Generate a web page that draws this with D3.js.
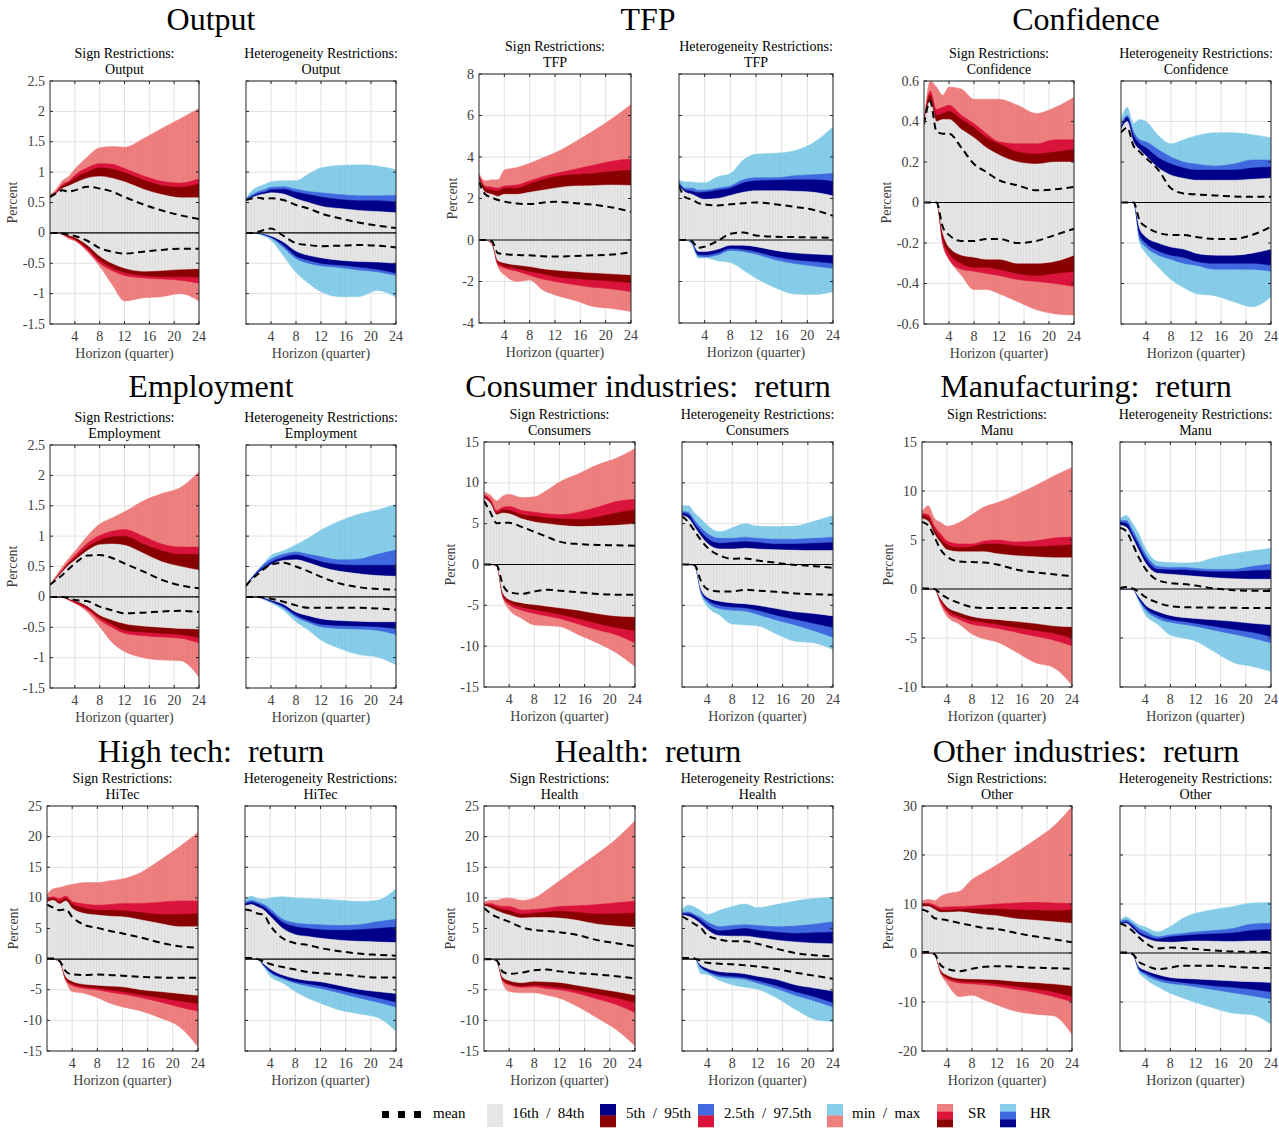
<!DOCTYPE html>
<html><head><meta charset="utf-8">
<script src="https://cdn.jsdelivr.net/npm/d3@7"></script>
<style>
body{margin:0;background:#fff}
svg text{font-family:"Liberation Serif","Times New Roman",serif}
</style>
</head><body>
<svg id="c" width="1279" height="1128"></svg>
<script>
// ---------------- DATA ----------------
const horizons = [0,1,2,3,4,6,8,10,12,15,18,21,24];
const xTicks = [4,8,12,16,20,24];
// Row order in every panel array:
// 0 max, 1 p97.5, 2 p95, 3 p84 (upper bound of identified set),
// 4 mean upper, 5 mean lower,
// 6 p16, 7 p5, 8 p2.5, 9 min (lower bound of identified set)
const outputSR = [
 [0.62,0.72,0.86,0.93,1.05,1.25,1.40,1.42,1.41,1.55,1.72,1.88,2.05],
 [0.62,0.68,0.80,0.85,0.95,1.07,1.14,1.13,1.06,0.94,0.85,0.82,0.89],
 [0.61,0.66,0.77,0.82,0.90,1.00,1.07,1.05,0.99,0.87,0.78,0.75,0.81],
 [0.60,0.65,0.73,0.77,0.82,0.90,0.93,0.90,0.84,0.72,0.63,0.58,0.58],
 [0.59,0.65,0.70,0.68,0.70,0.76,0.73,0.68,0.59,0.47,0.37,0.29,0.23],
 [0,0,-0.01,-0.03,-0.05,-0.13,-0.25,-0.31,-0.34,-0.31,-0.28,-0.26,-0.26],
 [0,0,-0.01,-0.04,-0.07,-0.20,-0.38,-0.50,-0.58,-0.63,-0.62,-0.60,-0.59],
 [0,0,-0.02,-0.06,-0.10,-0.25,-0.45,-0.57,-0.65,-0.70,-0.72,-0.72,-0.73],
 [0,0,-0.02,-0.07,-0.12,-0.28,-0.50,-0.62,-0.70,-0.74,-0.76,-0.78,-0.83],
 [0,0,-0.03,-0.10,-0.13,-0.31,-0.55,-0.85,-1.12,-1.07,-1.05,-1.00,-1.12]];
const outputHR = [
 [0.57,0.70,0.76,0.80,0.84,0.86,0.86,0.97,1.07,1.11,1.12,1.10,1.04],
 [0.56,0.63,0.68,0.71,0.75,0.76,0.72,0.68,0.66,0.63,0.61,0.61,0.62],
 [0.55,0.60,0.65,0.67,0.71,0.72,0.67,0.63,0.59,0.55,0.53,0.53,0.51],
 [0.55,0.58,0.62,0.64,0.66,0.64,0.56,0.50,0.44,0.40,0.37,0.35,0.33],
 [0.54,0.57,0.58,0.56,0.57,0.54,0.46,0.40,0.32,0.24,0.17,0.12,0.08],
 [0,0,0.02,0.05,0.07,-0.05,-0.17,-0.20,-0.22,-0.21,-0.20,-0.21,-0.24],
 [0,0,0,-0.02,-0.05,-0.15,-0.30,-0.37,-0.41,-0.45,-0.47,-0.48,-0.50],
 [0,0,-0.01,-0.03,-0.07,-0.20,-0.38,-0.45,-0.50,-0.53,-0.56,-0.60,-0.66],
 [0,0,-0.01,-0.04,-0.08,-0.24,-0.42,-0.50,-0.54,-0.57,-0.61,-0.64,-0.70],
 [0,0,-0.02,-0.06,-0.12,-0.38,-0.65,-0.83,-0.97,-1.05,-1.05,-0.95,-1.06]];
const tfpSR = [
 [3.2,2.85,2.9,2.9,3.37,3.5,3.7,3.95,4.2,4.7,5.25,5.85,6.53],
 [3.1,2.6,2.55,2.5,2.6,2.65,2.85,3.05,3.2,3.4,3.6,3.8,3.9],
 [3.0,2.5,2.4,2.35,2.5,2.5,2.7,2.9,3.05,3.15,3.2,3.3,3.37],
 [2.9,2.3,2.2,2.1,2.2,2.2,2.3,2.4,2.5,2.6,2.62,2.65,2.63],
 [2.8,2.2,2.05,1.93,1.85,1.76,1.73,1.8,1.84,1.78,1.7,1.57,1.36],
 [0,0,-0.05,-0.64,-0.68,-0.72,-0.74,-0.78,-0.8,-0.77,-0.74,-0.7,-0.59],
 [0,0,-0.1,-1.0,-1.1,-1.2,-1.28,-1.38,-1.45,-1.52,-1.58,-1.63,-1.68],
 [0,0,-0.12,-1.1,-1.25,-1.38,-1.5,-1.62,-1.76,-1.85,-1.92,-1.98,-2.05],
 [0,0,-0.15,-1.2,-1.35,-1.5,-1.7,-1.88,-2.0,-2.15,-2.28,-2.36,-2.49],
 [0,0,-0.2,-1.3,-1.68,-2.0,-1.93,-2.4,-2.65,-2.9,-3.2,-3.3,-3.45]];
const tfpHR = [
 [2.9,2.8,2.8,2.76,2.76,3.05,3.2,3.85,4.14,4.18,4.3,4.7,5.45],
 [2.8,2.5,2.5,2.4,2.4,2.5,2.6,2.9,3.0,3.0,3.1,3.15,3.2],
 [2.7,2.4,2.35,2.28,2.3,2.4,2.5,2.75,2.85,2.88,2.9,2.9,2.82],
 [2.6,2.3,2.2,2.05,1.96,2.0,2.15,2.3,2.37,2.37,2.35,2.3,2.12],
 [2.6,2.05,1.95,1.78,1.72,1.66,1.72,1.77,1.81,1.72,1.6,1.45,1.17],
 [0,0,-0.05,-0.38,-0.32,-0.05,0.3,0.36,0.22,0.16,0.14,0.12,0.11],
 [0,0,-0.1,-0.55,-0.56,-0.45,-0.25,-0.25,-0.32,-0.5,-0.62,-0.68,-0.72],
 [0,0,-0.12,-0.7,-0.72,-0.62,-0.4,-0.45,-0.56,-0.8,-0.95,-1.03,-1.12],
 [0,0,-0.15,-0.78,-0.82,-0.72,-0.5,-0.55,-0.68,-0.95,-1.13,-1.25,-1.36],
 [0,0,-0.2,-0.88,-0.86,-1.0,-1.09,-1.44,-1.84,-2.3,-2.6,-2.63,-2.49]];
const confSR = [
 [0.39,0.6,0.57,0.53,0.57,0.56,0.51,0.51,0.51,0.48,0.44,0.47,0.52],
 [0.4,0.55,0.46,0.47,0.48,0.43,0.39,0.34,0.3,0.29,0.29,0.31,0.31],
 [0.4,0.53,0.43,0.44,0.45,0.41,0.37,0.32,0.29,0.25,0.24,0.25,0.26],
 [0.39,0.5,0.4,0.41,0.41,0.36,0.32,0.27,0.235,0.2,0.19,0.2,0.2],
 [0.386,0.5,0.35,0.34,0.34,0.27,0.19,0.15,0.11,0.085,0.06,0.065,0.077],
 [0,0,0,-0.12,-0.16,-0.19,-0.19,-0.18,-0.18,-0.2,-0.19,-0.16,-0.13],
 [0,0,0,-0.15,-0.22,-0.26,-0.27,-0.28,-0.28,-0.3,-0.3,-0.29,-0.26],
 [0,0,0,-0.18,-0.25,-0.3,-0.32,-0.32,-0.33,-0.35,-0.36,-0.35,-0.34],
 [0,0,0,-0.2,-0.28,-0.33,-0.34,-0.35,-0.36,-0.38,-0.39,-0.4,-0.415],
 [0,0,0,-0.21,-0.28,-0.36,-0.43,-0.43,-0.45,-0.49,-0.53,-0.55,-0.556]];
const confHR = [
 [0.41,0.47,0.39,0.41,0.4,0.33,0.29,0.31,0.33,0.345,0.345,0.335,0.32],
 [0.38,0.43,0.35,0.31,0.3,0.26,0.225,0.2,0.19,0.18,0.19,0.21,0.21],
 [0.37,0.42,0.33,0.29,0.27,0.22,0.19,0.17,0.16,0.16,0.16,0.17,0.175],
 [0.36,0.4,0.3,0.26,0.23,0.17,0.135,0.12,0.11,0.11,0.11,0.115,0.12],
 [0.345,0.37,0.28,0.25,0.22,0.16,0.07,0.045,0.04,0.035,0.03,0.028,0.028],
 [0,0,0,-0.09,-0.12,-0.15,-0.16,-0.16,-0.17,-0.18,-0.18,-0.16,-0.12],
 [0,0,0,-0.13,-0.17,-0.2,-0.22,-0.23,-0.25,-0.26,-0.26,-0.25,-0.23],
 [0,0,0,-0.16,-0.2,-0.24,-0.26,-0.27,-0.29,-0.3,-0.3,-0.3,-0.31],
 [0,0,0,-0.18,-0.22,-0.26,-0.28,-0.3,-0.31,-0.33,-0.33,-0.33,-0.34],
 [0,0,0,-0.2,-0.25,-0.32,-0.38,-0.42,-0.45,-0.46,-0.49,-0.515,-0.465]];
const emplSR = [
 [0.2,0.35,0.5,0.63,0.75,1.0,1.2,1.3,1.4,1.58,1.7,1.8,2.06],
 [0.2,0.32,0.45,0.57,0.68,0.88,1.01,1.08,1.11,1.0,0.87,0.82,0.82],
 [0.2,0.31,0.43,0.55,0.64,0.82,0.93,0.99,1.0,0.87,0.76,0.7,0.7],
 [0.2,0.3,0.41,0.52,0.6,0.76,0.86,0.87,0.85,0.72,0.58,0.5,0.44],
 [0.2,0.28,0.36,0.46,0.55,0.68,0.69,0.64,0.55,0.42,0.28,0.19,0.14],
 [0,0,0,-0.02,-0.05,-0.07,-0.16,-0.22,-0.27,-0.26,-0.24,-0.23,-0.25],
 [0,0,0,-0.03,-0.06,-0.15,-0.3,-0.38,-0.44,-0.48,-0.5,-0.52,-0.53],
 [0,0,0,-0.04,-0.08,-0.18,-0.34,-0.45,-0.55,-0.58,-0.6,-0.62,-0.67],
 [0,0,0,-0.05,-0.1,-0.21,-0.38,-0.5,-0.6,-0.64,-0.66,-0.68,-0.76],
 [0,0,0,-0.05,-0.1,-0.25,-0.49,-0.75,-0.9,-1.0,-1.04,-1.05,-1.32]];
const emplHR = [
 [0.2,0.32,0.45,0.57,0.68,0.76,0.86,0.97,1.1,1.25,1.36,1.43,1.52],
 [0.2,0.33,0.45,0.55,0.62,0.7,0.74,0.7,0.66,0.61,0.62,0.7,0.77],
 [0.2,0.32,0.42,0.5,0.57,0.65,0.69,0.64,0.58,0.53,0.52,0.52,0.52],
 [0.2,0.3,0.4,0.46,0.53,0.6,0.61,0.56,0.49,0.42,0.38,0.35,0.34],
 [0.18,0.3,0.38,0.47,0.53,0.56,0.5,0.42,0.33,0.22,0.16,0.13,0.12],
 [0,0,0,-0.01,-0.03,-0.08,-0.14,-0.18,-0.18,-0.18,-0.18,-0.19,-0.21],
 [0,0,0,-0.02,-0.05,-0.12,-0.25,-0.31,-0.36,-0.39,-0.4,-0.41,-0.41],
 [0,0,0,-0.03,-0.07,-0.16,-0.3,-0.39,-0.45,-0.47,-0.48,-0.49,-0.52],
 [0,0,0,-0.04,-0.08,-0.18,-0.33,-0.42,-0.49,-0.52,-0.53,-0.55,-0.62],
 [0,0,0,-0.05,-0.1,-0.22,-0.41,-0.55,-0.71,-0.85,-0.95,-0.99,-1.12]];
const consSR = [
 [8.9,8.5,7.8,8.4,8.6,8.2,8.3,9.1,10.1,11.1,12.2,13.0,14.2],
 [8.5,8.0,6.6,7.0,7.1,6.6,6.4,6.2,6.1,6.4,7.0,7.7,8.0],
 [8.3,7.7,6.3,6.7,6.6,6.1,5.9,5.7,5.6,5.5,5.8,6.3,6.7],
 [8.1,7.5,6.1,6.3,6.2,5.6,5.2,5.0,4.8,4.65,4.7,4.8,5.0],
 [7.8,6.4,5.05,5.1,5.1,4.6,4.0,3.4,2.8,2.5,2.4,2.35,2.3],
 [0,0,-0.1,-2.5,-3.4,-3.6,-3.3,-3.1,-3.2,-3.4,-3.6,-3.7,-3.7],
 [0,0,-0.1,-3.5,-4.3,-4.7,-4.9,-5.1,-5.3,-5.6,-6.0,-6.3,-6.4],
 [0,0,-0.1,-3.8,-4.6,-5.2,-5.5,-5.8,-6.1,-6.6,-7.2,-7.7,-8.1],
 [0,0,-0.1,-4.0,-4.9,-5.6,-6.0,-6.3,-6.6,-7.3,-8.0,-8.6,-9.6],
 [0,0,-0.1,-4.1,-5.5,-6.6,-7.4,-7.5,-7.6,-8.6,-9.6,-10.8,-12.5]];
const consHR = [
 [7.2,7.2,6.3,5.6,4.8,4.0,4.5,5.0,4.7,4.65,4.7,5.3,6.0],
 [6.5,6.4,5.4,4.5,3.8,3.2,3.2,3.35,3.2,3.1,3.1,3.2,3.35],
 [6.3,6.1,5.0,4.0,3.2,2.6,2.7,2.8,2.7,2.5,2.5,2.6,2.7],
 [6.0,5.7,4.6,3.5,2.6,1.9,1.9,2.0,1.9,1.8,1.75,1.7,1.7],
 [5.9,5.2,4.1,3.0,2.1,1.1,0.7,0.75,0.5,0.2,-0.05,-0.2,-0.4],
 [0,0,-0.1,-2.0,-3.0,-3.3,-3.3,-3.1,-3.2,-3.35,-3.55,-3.65,-3.7],
 [0,0,-0.1,-3.0,-4.0,-4.5,-4.7,-4.8,-5.0,-5.4,-5.8,-6.0,-6.3],
 [0,0,-0.1,-3.2,-4.3,-5.0,-5.2,-5.3,-5.6,-6.2,-6.7,-7.2,-7.7],
 [0,0,-0.1,-3.4,-4.6,-5.4,-5.6,-5.7,-6.1,-6.8,-7.4,-8.1,-8.9],
 [0,0,-0.1,-3.6,-5.1,-6.2,-7.3,-7.4,-7.5,-8.5,-9.4,-9.6,-10.4]];
const manuSR = [
 [7.9,8.5,7.2,6.8,6.4,6.8,7.6,8.4,8.8,9.6,10.5,11.5,12.4],
 [7.7,7.6,6.4,5.6,4.9,4.6,4.6,4.9,5.0,4.8,4.9,5.2,5.3],
 [7.5,7.3,6.0,5.1,4.5,4.2,4.3,4.6,4.6,4.4,4.3,4.4,4.5],
 [7.2,6.9,5.6,4.7,4.0,3.8,3.8,3.8,3.6,3.4,3.3,3.2,3.2],
 [6.85,6.5,5.3,4.0,3.3,2.8,2.75,2.7,2.5,2.0,1.7,1.5,1.3],
 [0.05,0.05,0,-0.5,-0.9,-1.45,-1.85,-1.95,-1.95,-1.93,-1.93,-1.93,-1.93],
 [0,0,0,-1.0,-1.8,-2.4,-2.8,-3.0,-3.1,-3.3,-3.5,-3.75,-3.85],
 [0,0,0,-1.2,-2.1,-2.8,-3.2,-3.4,-3.6,-3.9,-4.2,-4.5,-5.0],
 [0,0,0,-1.4,-2.4,-3.1,-3.6,-3.8,-4.0,-4.4,-4.8,-5.2,-5.8],
 [0,0,0,-1.6,-2.8,-3.6,-4.6,-5.1,-5.4,-6.4,-7.5,-8.0,-9.8]];
const manuHR = [
 [7.2,7.5,6.7,5.6,4.2,2.8,2.7,2.65,2.7,3.2,3.6,3.9,4.15],
 [7.0,7.0,6.0,4.8,3.6,2.3,2.2,2.2,2.1,2.0,2.0,2.3,2.55],
 [6.8,6.7,5.6,4.4,3.2,2.0,1.95,1.95,1.85,1.75,1.75,1.85,1.95],
 [6.5,6.3,5.2,3.9,2.7,1.6,1.5,1.4,1.3,1.15,1.05,1.0,1.0],
 [6.25,5.9,4.6,3.2,2.1,0.9,0.6,0.5,0.35,0.05,-0.12,-0.18,-0.2],
 [0.1,0.2,0.05,-0.3,-0.8,-1.4,-1.75,-1.85,-1.88,-1.9,-1.92,-1.93,-1.93],
 [0,0,0,-0.8,-1.6,-2.3,-2.7,-2.9,-3.0,-3.15,-3.3,-3.5,-3.65],
 [0,0,0,-1.0,-1.9,-2.7,-3.1,-3.3,-3.5,-3.8,-4.1,-4.4,-4.85],
 [0,0,0,-1.1,-2.1,-3.0,-3.4,-3.6,-3.8,-4.2,-4.6,-5.0,-5.5],
 [0,0,0,-1.3,-2.6,-3.6,-4.7,-5.0,-5.3,-6.4,-7.5,-7.9,-8.4]];
const hitecSR = [
 [10.6,11.5,11.7,12.0,12.2,12.5,12.5,12.8,13.1,14.2,16.2,18.3,20.7],
 [9.8,10.2,9.9,10.3,9.4,9.0,8.8,8.9,9.1,9.1,9.3,9.5,9.5],
 [9.5,9.9,9.4,9.9,9.0,8.3,8.0,8.0,7.9,7.6,7.3,7.3,7.45],
 [9.3,9.6,9.0,9.5,8.3,7.45,7.2,7.0,6.9,6.4,5.8,5.3,5.3],
 [8.9,8.4,8.0,8.1,6.9,5.55,5.1,4.6,4.2,3.5,2.7,2.1,1.85],
 [0.1,0.1,-0.3,-2.0,-2.5,-2.6,-2.5,-2.6,-2.7,-2.9,-3.0,-3.05,-3.05],
 [0,0,-0.4,-2.9,-3.6,-4.1,-4.25,-4.4,-4.5,-5.0,-5.3,-5.6,-5.9],
 [0,0,-0.4,-3.2,-4.0,-4.5,-4.7,-5.0,-5.3,-5.8,-6.3,-6.8,-7.25],
 [0,0,-0.4,-3.5,-4.3,-4.8,-5.0,-5.4,-5.7,-6.3,-7.0,-7.8,-8.5],
 [0,0,-0.5,-3.6,-5.3,-5.6,-6.3,-7.2,-7.8,-8.5,-9.6,-11.0,-14.3]];
const hitecHR = [
 [9.6,10.3,9.9,9.8,10.0,10.2,10.0,9.9,9.8,9.6,9.4,9.6,11.5],
 [9.2,9.6,9.3,8.9,8.2,6.5,5.9,5.7,5.6,5.5,5.6,6.1,6.5],
 [9.0,9.3,9.0,8.5,7.7,6.0,5.3,5.0,4.8,4.7,4.8,5.0,5.2],
 [8.7,8.9,8.5,8.0,7.0,5.0,4.0,3.7,3.4,3.1,2.9,2.8,2.7],
 [8.1,7.9,7.45,7.2,5.5,3.4,2.6,2.3,1.8,1.3,0.9,0.7,0.55],
 [0.2,0.2,0,-0.4,-0.8,-1.3,-1.7,-2.1,-2.3,-2.5,-2.8,-3.0,-3.0],
 [0.1,0.1,0,-0.8,-1.6,-2.6,-3.15,-3.5,-3.7,-4.3,-4.9,-5.3,-5.6],
 [0.1,0.1,0,-1.0,-2.0,-3.0,-3.7,-4.0,-4.35,-5.0,-5.7,-6.3,-7.0],
 [0.1,0.1,0,-1.1,-2.2,-3.2,-3.9,-4.4,-4.8,-5.5,-6.3,-7.0,-7.8],
 [0.1,0.1,0,-1.3,-2.8,-3.9,-5.3,-6.4,-7.2,-8.3,-8.9,-9.5,-11.75]];
const healthSR = [
 [9.3,9.6,9.6,9.9,10.0,9.6,10.0,11.3,12.8,15.0,17.2,19.6,22.6],
 [9.0,9.1,8.8,8.6,8.6,8.0,8.1,8.3,8.6,8.7,8.9,9.2,9.45],
 [8.9,8.8,8.4,8.1,7.9,7.3,7.5,7.7,7.8,7.6,7.35,7.4,7.5],
 [8.7,8.4,7.9,7.5,7.2,6.7,6.8,6.8,6.7,6.3,5.7,5.4,5.2],
 [8.35,7.5,6.9,6.5,6.1,5.2,4.75,4.6,4.4,3.9,3.1,2.6,2.1],
 [0,0,-0.2,-2.1,-2.4,-2.2,-1.8,-1.7,-2.0,-2.3,-2.5,-2.8,-3.15],
 [0,0,-0.3,-3.0,-3.5,-3.85,-3.6,-3.7,-3.8,-4.3,-4.8,-5.3,-5.85],
 [0,0,-0.3,-3.4,-4.0,-4.4,-4.2,-4.4,-4.65,-5.1,-5.7,-6.3,-7.1],
 [0,0,-0.3,-3.6,-4.2,-4.6,-4.5,-4.8,-5.0,-5.6,-6.5,-7.4,-8.7],
 [0,0,-0.3,-4.0,-5.3,-5.5,-5.5,-5.9,-6.4,-7.8,-9.6,-11.5,-14.2]];
const healthHR = [
 [8.1,8.8,8.5,7.9,7.3,8.0,8.6,9.0,8.4,8.9,9.5,9.9,10.1],
 [7.6,7.7,7.3,6.8,6.1,5.3,5.5,5.6,5.5,5.3,5.4,5.7,6.1],
 [7.4,7.4,7.0,6.3,5.5,4.6,4.8,5.0,4.7,4.4,4.2,4.3,4.4],
 [7.2,7.0,6.5,5.7,4.8,3.8,3.75,3.75,3.5,3.1,2.8,2.6,2.5],
 [7.0,6.4,5.7,5.1,3.9,3.2,2.9,2.9,2.5,1.7,1.0,0.65,0.45],
 [0.2,0.2,0.1,-0.3,-0.6,-0.75,-0.85,-1.0,-1.2,-1.6,-2.2,-2.7,-3.2],
 [0.1,0.1,0.05,-1.0,-1.5,-2.05,-2.2,-2.4,-2.8,-3.3,-4.2,-4.7,-5.2],
 [0.1,0.1,0.05,-1.3,-1.9,-2.6,-2.8,-3.0,-3.5,-4.3,-5.3,-6.1,-7.1],
 [0.1,0.1,0.05,-1.4,-2.1,-2.9,-3.1,-3.3,-3.9,-4.8,-5.9,-6.8,-7.8],
 [0.1,0.1,0.05,-2.4,-2.5,-3.5,-4.2,-4.6,-4.9,-6.3,-8.2,-9.8,-10.2]];
const otherSR = [
 [10.6,10.95,10.7,11.6,12.1,12.6,15.0,16.5,18.0,20.5,23.0,25.8,29.9],
 [10.0,10.2,9.8,9.3,9.4,9.45,9.6,9.8,10.0,10.2,10.35,10.2,10.1],
 [9.8,9.9,9.3,8.8,8.7,8.9,9.0,9.0,9.0,8.8,8.7,8.6,8.8],
 [9.5,9.5,8.9,8.3,8.3,8.4,8.1,7.8,7.6,7.0,6.7,6.4,6.05],
 [8.9,8.4,7.1,6.9,6.7,6.1,5.6,5.1,4.9,4.1,3.4,2.8,2.2],
 [0.2,0.2,-0.2,-2.5,-3.2,-3.7,-3.2,-2.8,-2.7,-2.8,-3.0,-3.1,-3.25],
 [0,0,-0.3,-3.5,-4.5,-5.2,-5.3,-5.35,-5.45,-5.8,-6.0,-6.3,-6.7],
 [0,0,-0.3,-3.8,-5.0,-5.7,-5.9,-6.0,-6.3,-6.8,-7.3,-7.9,-8.9],
 [0,0,-0.3,-4.0,-5.3,-6.1,-6.3,-6.5,-6.8,-7.4,-8.0,-8.9,-9.9],
 [0,0,-0.3,-4.3,-6.2,-8.9,-8.6,-9.6,-10.6,-11.9,-12.5,-12.8,-16.6]];
const otherHR = [
 [6.7,7.4,6.6,5.7,5.3,4.3,5.4,7.1,8.1,8.9,9.5,10.2,10.3],
 [6.4,6.8,6.0,5.0,4.4,3.3,3.7,4.0,4.3,4.6,5.0,5.9,6.05],
 [6.1,6.3,5.5,4.3,3.6,2.85,3.3,3.5,3.75,3.9,4.1,4.6,4.8],
 [5.9,6.0,5.0,3.8,3.1,2.3,2.2,2.3,2.45,2.4,2.35,2.45,2.45],
 [6.05,5.5,4.5,3.2,2.1,0.9,1.1,1.0,0.8,0.5,0.3,0.25,0.2],
 [0.1,0.1,-0.2,-1.8,-2.45,-3.3,-3.0,-2.6,-2.6,-2.6,-2.8,-3.0,-3.1],
 [0,0,-0.2,-2.8,-3.5,-4.4,-5.0,-5.2,-5.3,-5.5,-5.7,-5.85,-6.0],
 [0,0,-0.2,-3.2,-4.0,-5.1,-5.7,-6.0,-6.3,-6.7,-7.0,-7.4,-7.9],
 [0,0,-0.2,-3.4,-4.4,-5.6,-6.2,-6.5,-6.9,-7.5,-8.1,-8.7,-9.4],
 [0,0,-0.2,-3.9,-5.2,-6.9,-8.2,-9.2,-10.1,-11.3,-12.3,-12.6,-14.55]];

const groupTitles = ["Output","TFP","Confidence","Employment","Consumer industries:  return",
  "Manufacturing:  return","High tech:  return","Health:  return","Other industries:  return"];
const shortNames = ["Output","TFP","Confidence","Employment","Consumers","Manu","HiTec","Health","Other"];
const yDomains = [[-1.5,2.5],[-4,8],[-0.6,0.6],[-1.5,2.5],[-15,15],[-10,15],[-15,25],[-15,25],[-20,30]];
const yTickSteps = [0.5,2,0.2,0.5,5,5,5,5,10];
const panelData = [[outputSR,outputHR],[tfpSR,tfpHR],[confSR,confHR],[emplSR,emplHR],
  [consSR,consHR],[manuSR,manuHR],[hitecSR,hitecHR],[healthSR,healthHR],[otherSR,otherHR]];
const legendLabels = ["mean","16th  /  84th","5th  /  95th","2.5th  /  97.5th","min  /  max","SR","HR"];

// ---------------- LAYOUT / STYLE ----------------
// [srLeft, srRight, hrLeft, hrRight, top, bottom]
const layout = [
 [50,199,246,396,81,324],[479,631,679,833,74,323],[924,1074,1121,1271,81,324],
 [50,199,246,396,445,688],[484,635,682,833,442,687],[922,1072,1120,1271,442,687],
 [47,198,245,396,806,1051],[484,635,682,833,806,1051],[922,1072,1120,1271,806,1051]];
const titleX = [211,648,1086], titleY = [30,397,762];
const COL = {SR:["#F08080","#DC143C","#8B0000"], HR:["#87CEEB","#4169E1","#00008B"], gray:"#E6E6E6"};
const AX = "#262626", TXT = "#404040", FS = "14px";

const svg = d3.select("#c");
const defs = svg.append("defs");
// faint vertical hatching, like the triangulated patches of the original
const pat = defs.append("pattern").attr("id","hatch").attr("patternUnits","userSpaceOnUse")
  .attr("width",3.1).attr("height",10);
pat.append("line").attr("x1",0.5).attr("x2",0.5).attr("y1",0).attr("y2",10)
  .attr("stroke","#000").attr("stroke-opacity",0.06).attr("stroke-width",0.7);
const fmt = v => (+v.toFixed(2)).toString();

panelData.forEach((pair, gi) => {
  const L = layout[gi];
  const row = Math.floor(gi/3), col = gi % 3;
  svg.append("text").attr("x", titleX[col]).attr("y", titleY[row])
    .attr("text-anchor","middle").style("font-size","32px").style("white-space","pre")
    .attr("fill","#000").text(groupTitles[gi]);
  const [d0,d1] = yDomains[gi], st = yTickSteps[gi];
  const yTicks = d3.range(0, Math.round((d1-d0)/st)+1).map(i => +(d0 + i*st).toFixed(4));

  pair.forEach((P, si) => {
    const side = si === 0 ? "SR" : "HR";
    const left = si ? L[2] : L[0], right = si ? L[3] : L[1], top = L[4], bottom = L[5];
    const x = d3.scaleLinear().domain([0,24]).range([left,right]);
    const y = d3.scaleLinear().domain(yDomains[gi]).range([bottom,top]);
    const g = svg.append("g");
    const cid = "clip"+gi+side;
    defs.append("clipPath").attr("id",cid).append("rect")
      .attr("x",left).attr("y",top).attr("width",right-left).attr("height",bottom-top);

    const cx = (left+right)/2;
    g.append("text").attr("x",cx).attr("y",top-23).attr("text-anchor","middle")
      .style("font-size",FS).attr("fill","#000")
      .text(side==="SR" ? "Sign Restrictions:" : "Heterogeneity Restrictions:");
    g.append("text").attr("x",cx).attr("y",top-7).attr("text-anchor","middle")
      .style("font-size",FS).attr("fill","#000").text(shortNames[gi]);

    const grid = g.append("g").attr("stroke","#e2e2e2").attr("stroke-width",1);
    xTicks.forEach(t => grid.append("line").attr("x1",x(t)).attr("x2",x(t)).attr("y1",top).attr("y2",bottom));
    yTicks.forEach(t => grid.append("line").attr("x1",left).attr("x2",right).attr("y1",y(t)).attr("y2",y(t)));

    const plot = g.append("g").attr("clip-path","url(#"+cid+")");
    const pts = horizons.map((h,i) => i);
    const band = (lo, hi) => d3.area().curve(d3.curveMonotoneX)
      .x(i => x(horizons[i])).y0(i => y(P[lo][i])).y1(i => y(P[hi][i]))(pts);
    const cols = COL[side];
    const fillBand = (lo, hi, c) => plot.append("path").attr("d",band(lo,hi))
      .attr("fill",c).attr("stroke",c).attr("stroke-width",0.5);
    fillBand(3,0,cols[0]); fillBand(3,1,cols[1]); fillBand(3,2,cols[2]);
    fillBand(9,6,cols[0]); fillBand(8,6,cols[1]); fillBand(7,6,cols[2]);
    fillBand(6,3,COL.gray);
    plot.append("path").attr("d",band(9,0)).attr("fill","url(#hatch)");
    plot.append("line").attr("x1",left).attr("x2",right).attr("y1",y(0)).attr("y2",y(0))
      .attr("stroke","#000").attr("stroke-width",1.2);
    const line = r => d3.line().curve(d3.curveMonotoneX).x(i => x(horizons[i])).y(i => y(P[r][i]))(pts);
    [4,5].forEach(r => plot.append("path").attr("d",line(r)).attr("fill","none")
      .attr("stroke","#000").attr("stroke-width",2).attr("stroke-dasharray","7,4.5"));

    const ax = g.append("g").attr("stroke",AX).attr("stroke-width",1).attr("fill","none");
    ax.append("rect").attr("x",left).attr("y",top).attr("width",right-left).attr("height",bottom-top);
    xTicks.forEach(t => {
      ax.append("line").attr("x1",x(t)).attr("x2",x(t)).attr("y1",bottom).attr("y2",bottom-3);
      ax.append("line").attr("x1",x(t)).attr("x2",x(t)).attr("y1",top).attr("y2",top+3);
    });
    yTicks.forEach(t => {
      ax.append("line").attr("x1",left).attr("x2",left+3).attr("y1",y(t)).attr("y2",y(t));
      ax.append("line").attr("x1",right).attr("x2",right-3).attr("y1",y(t)).attr("y2",y(t));
    });
    xTicks.forEach(t => g.append("text").attr("x",x(t)).attr("y",bottom+17).attr("text-anchor","middle")
      .style("font-size",FS).attr("fill",TXT).text(t));
    g.append("text").attr("x",cx).attr("y",bottom+34).attr("text-anchor","middle")
      .style("font-size",FS).attr("fill",TXT).text("Horizon (quarter)");
    if (si === 0) {
      let maxW = 0;
      yTicks.forEach(t => {
        const tx = g.append("text").attr("x",left-5).attr("y",y(t)+4.5).attr("text-anchor","end")
          .style("font-size",FS).attr("fill",TXT).text(fmt(t));
        maxW = Math.max(maxW, tx.node().getComputedTextLength());
      });
      const bx = left - maxW - 10.5, by = (top+bottom)/2;
      g.append("text").attr("transform",`translate(${bx},${by}) rotate(-90)`).attr("text-anchor","middle")
        .style("font-size",FS).attr("fill",TXT).text("Percent");
    }
  });
});

// ---------------- LEGEND ----------------
const lg = svg.append("g");
const LY = 1104, LH = 23, LW = 16, TY = 1118;
[382,398,414].forEach(xx => lg.append("rect").attr("x",xx).attr("y",1111).attr("width",7).attr("height",7).attr("fill","#000"));
const legText = (xx, s) => lg.append("text").attr("x",xx).attr("y",TY).style("font-size","15px")
  .style("white-space","pre").attr("fill","#000").text(s);
legText(433, legendLabels[0]);
lg.append("rect").attr("x",487).attr("y",LY).attr("width",LW).attr("height",LH).attr("fill",COL.gray);
legText(512, legendLabels[1]);
const split = (xx, colsArr) => colsArr.forEach((c,i) => lg.append("rect").attr("x",xx)
  .attr("y",LY + i*LH/colsArr.length).attr("width",LW).attr("height",LH/colsArr.length+0.3).attr("fill",c));
split(600,[COL.HR[2],COL.SR[2]]); legText(626, legendLabels[2]);
split(698,[COL.HR[1],COL.SR[1]]); legText(724, legendLabels[3]);
split(827,[COL.HR[0],COL.SR[0]]); legText(852, legendLabels[4]);
split(937,COL.SR); legText(968, legendLabels[5]);
split(1000,COL.HR); legText(1030, legendLabels[6]);
</script>
</body></html>
